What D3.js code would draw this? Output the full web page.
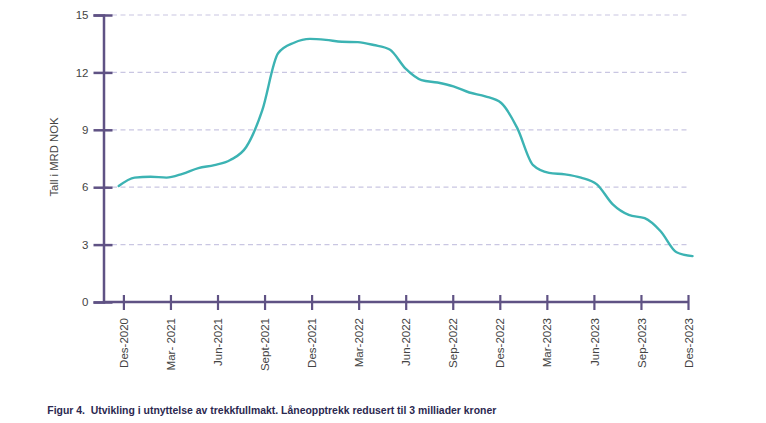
<!DOCTYPE html>
<html><head><meta charset="utf-8">
<script src="https://cdn.jsdelivr.net/npm/d3@7"></script>
<style>
html,body{margin:0;padding:0;background:#fff;}
svg{display:block;}
</style></head>
<body>
<svg id="chart" width="766" height="423"></svg>
<script>
// Monthly values, Des-2020 .. Des-2023 (bn NOK)
const months = d3.range(37);
const values = [6.06, 6.5, 6.55, 6.5, 6.7, 7.0, 7.15, 7.42, 8.1, 10.0, 13.0, 13.55, 13.75,
  13.7, 13.6, 13.58, 13.43, 13.2, 12.2, 11.6, 11.47, 11.27, 10.95, 10.75, 10.4,
  9.1, 7.15, 6.75, 6.67, 6.5, 6.15, 5.1, 4.55, 4.38, 3.7, 2.6, 2.4];
const tickLabels = ["Des-2020","Mar- 2021","Jun-2021","Sept-2021","Des-2021","Mar-2022","Jun-2022",
  "Sep-2022","Des-2022","Mar-2023","Jun-2023","Sep-2023","Des-2023"];
const yTicks = [0, 3, 6, 9, 12, 15];
const yTitle = "Tall i MRD NOK";
const caption = "Figur 4.  Utvikling i utnyttelse av trekkfullmakt. Låneopptrekk redusert til 3 milliader kroner";

const svg = d3.select("#chart");
const axisColor = "#5f5284";
const font = "Arial, 'Liberation Sans', sans-serif";

const y = d3.scaleLinear().domain([0, 15]).range([302, 15]);
const xAxisScale = d3.scalePoint().domain(tickLabels).range([123.4, 688]);
const xLine = d3.scaleLinear().domain([0, 36]).range([118.7, 692.5]);
const axisX0 = 103.5;

// gridlines
svg.append("g").selectAll("line").data(yTicks.filter(d => d > 0)).join("line")
  .attr("x1", axisX0).attr("x2", 688)
  .attr("y1", d => y(d)).attr("y2", d => y(d))
  .attr("stroke", "#c9c6e2").attr("stroke-width", 1.2)
  .attr("stroke-dasharray", "5,3.5");

// y axis
const yAxis = svg.append("g").attr("transform", `translate(${axisX0},0)`)
  .call(d3.axisLeft(y).tickValues(yTicks).tickSize(10).tickPadding(5));
yAxis.select(".domain").attr("stroke", axisColor).attr("stroke-width", 2.5);
yAxis.selectAll(".tick line").attr("stroke", axisColor).attr("stroke-width", 2.5)
  .attr("x1", -10).attr("x2", 9);
yAxis.selectAll(".tick text").attr("fill", "#444").style("font-family", font).style("font-size", "11.5px");

// x axis
const xAxis = svg.append("g").attr("transform", `translate(0,302)`)
  .call(d3.axisBottom(xAxisScale).tickSize(8).tickSizeOuter(0));
xAxis.select(".domain").attr("d", `M${axisX0},0H688`).attr("stroke", axisColor).attr("stroke-width", 2.5);
xAxis.selectAll(".tick line").attr("stroke", axisColor).attr("stroke-width", 2.2)
  .attr("y1", -7).attr("y2", 8);
xAxis.selectAll(".tick text")
  .attr("fill", "#444").style("font-family", font).style("font-size", "11.5px")
  .attr("text-anchor", "end")
  .attr("transform", "rotate(-90)")
  .attr("x", -16).attr("y", 0).attr("dy", "0.36em")
  .attr("dx", 0);

// y title
svg.append("text")
  .attr("transform", "translate(58,157) rotate(-90)")
  .attr("text-anchor", "middle")
  .attr("fill", "#444").style("font-family", font).style("font-size", "11.3px")
  .text(yTitle);

// line
const line = d3.line().x((d, i) => xLine(months[i])).y(d => y(d)).curve(d3.curveMonotoneX);
svg.append("path").datum(values)
  .attr("d", line)
  .attr("fill", "none").attr("stroke", "#3cb3b3").attr("stroke-width", 2.4)
  .attr("stroke-linecap", "round");

// caption
svg.append("text")
  .attr("x", 47.3).attr("y", 413.5)
  .attr("fill", "#2b2850")
  .style("white-space", "pre")
  .style("font-family", "'Liberation Sans Narrow', Arial, sans-serif")
  .style("font-weight", "bold").style("font-size", "11px")
  .attr("textLength", 449).attr("lengthAdjust", "spacingAndGlyphs")
  .text(caption);
</script>
</body></html>
